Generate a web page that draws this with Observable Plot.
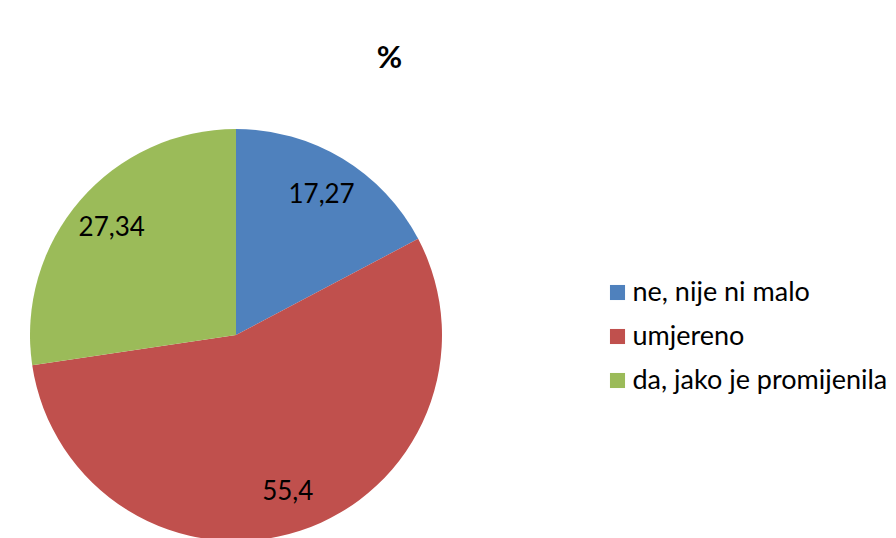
<!DOCTYPE html>
<html><head><meta charset="utf-8">
<script src="https://cdn.jsdelivr.net/npm/d3@7"></script>
<script src="https://cdn.jsdelivr.net/npm/@observablehq/plot@0.6"></script>
<style>
body{margin:0;background:#fff;}
#wrap{position:relative;width:896px;height:538px;overflow:hidden;}
#legend{position:absolute;left:596px;top:250px;}
#chart{position:absolute;left:0;top:0;}
</style></head><body>
<div id="wrap"><div id="chart"></div><div id="legend"></div></div>
<script>
const title = "%";
const categories = ["ne, nije ni malo", "umjereno", "da, jako je promijenila"];
const values = [17.27, 55.4, 27.34];
const valueLabels = ["17,27", "55,4", "27,34"];
const colors = ["#4f81bd", "#c0504d", "#9bbb59"];

const font = "Lato, 'Open Sans', sans-serif";
const data = categories.map((c, i) => ({category: c, value: values[i], label: valueLabels[i]}));
const arcs = d3.pie().sort(null).value(d => d.value)(data);
const labelRadius = 0.8;
const labelData = arcs.map(a => {
  const m = (a.startAngle + a.endAngle) / 2;
  return {...a.data, lx: labelRadius * Math.sin(m), ly: labelRadius * Math.cos(m)};
});
const colorScale = Plot.scale({color: {domain: categories, range: colors}});

function pieSlices(index, scales) {
  const cx = scales.x(0), cy = scales.y(0), r = scales.x(1) - scales.x(0);
  const arc = d3.arc().innerRadius(0).outerRadius(r);
  const g = d3.create("svg:g").attr("transform", `translate(${cx},${cy})`);
  g.selectAll("path").data(arcs).join("path")
    .attr("d", arc)
    .attr("fill", d => colorScale.apply(d.data.category));
  return g.node();
}

const chart = Plot.plot({
  width: 896, height: 538,
  margin: 0,
  style: {fontFamily: font, background: "white"},
  x: {domain: [-1, 1], range: [30, 442], axis: null},
  y: {domain: [-1, 1], range: [541, 129], axis: null},
  marks: [
    pieSlices,
    Plot.text(labelData, {x: "lx", y: "ly", text: "label", fill: "black", fontSize: 26}),
    Plot.text([title], {frameAnchor: "top-left", dx: 389, dy: 45, textAnchor: "middle", fontSize: 31, fontWeight: "bold", fill: "black"})
  ]
});
document.getElementById("chart").appendChild(chart);

const legend = Plot.plot({
  width: 300, height: 170,
  margin: 0,
  style: {fontFamily: font, background: "transparent", overflow: "visible"},
  x: {domain: [0, 1], range: [21, 300], axis: null},
  y: {domain: categories, type: "point", padding: 0, range: [41, 130], axis: null},
  color: {domain: categories, range: colors},
  marks: [
    Plot.dot(categories, {x: () => 0, y: d => d, fill: d => d, symbol: "square", r: 8.5}),
    Plot.text(categories, {x: () => 0, y: d => d, text: d => d, dx: 15, textAnchor: "start", fontSize: 27, fill: "black"})
  ]
});
document.getElementById("legend").appendChild(legend);
</script>
</body></html>
